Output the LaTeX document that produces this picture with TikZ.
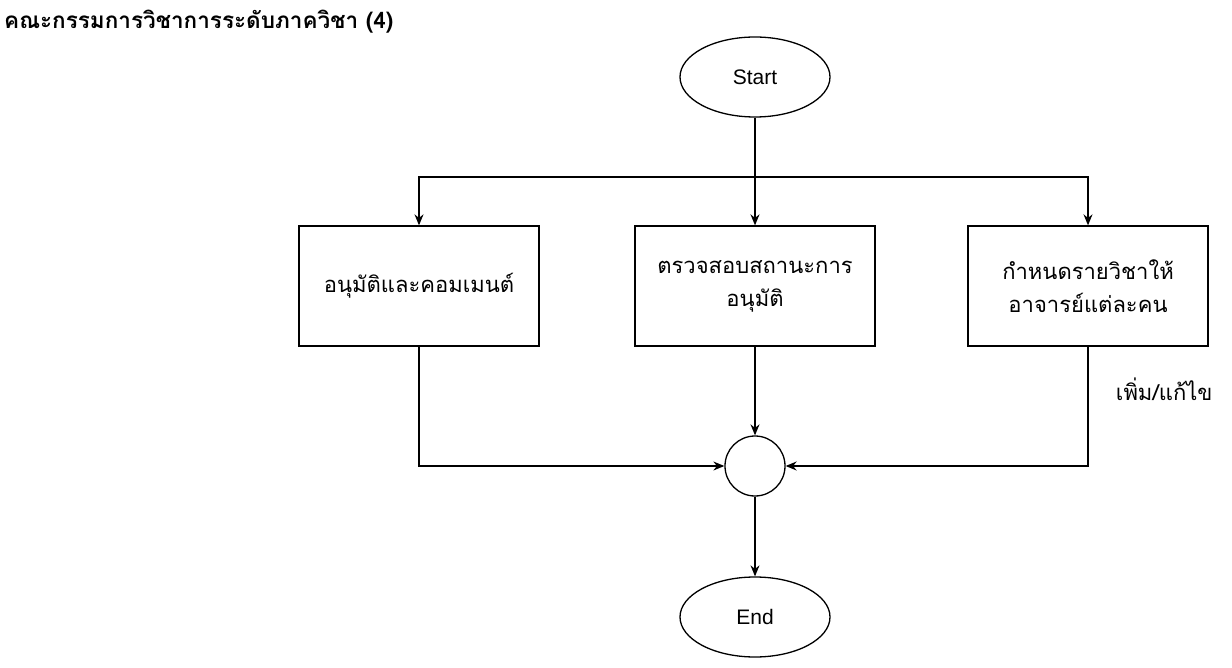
\documentclass[tikz,border=0pt]{standalone}
\usepackage{fontspec}
\setmainfont{Liberation Sans}
\newfontfamily\thaifont[Script=Thai]{Loma}
\usetikzlibrary{arrows.meta,shapes.geometric}

\tikzset{
  flowline/.style={line width=1.3pt, -{Stealth[length=11pt,width=9pt]}},
  terminal/.style={draw, line width=1.3pt, ellipse, minimum width=150pt, minimum height=80pt, font=\fontsize{21}{25}\selectfont},
  taskbox/.style={draw, line width=1.3pt, minimum width=240pt, minimum height=120pt, align=center, font=\thaifont\fontsize{22}{33}\selectfont},
  joint/.style={draw, line width=1.3pt, circle, minimum size=60pt, inner sep=0pt}
}

\begin{document}
\begin{tikzpicture}[x=1pt,y=1pt,yscale=-1,xscale=1]
		% page frame
		\useasboundingbox (0,0) rectangle (1232,668);

		% title
		\node[anchor=west, inner sep=0pt, font=\thaifont\bfseries\fontsize{22.5}{26}\selectfont] (title) at (4,22) {คณะกรรมการวิชาการระดับภาควิชา (4)};

		% start and end
		\node[terminal] (start) at (755,77) {Start};
		\node[terminal] (end) at (755,617) {End};

		% the three tasks
		\node[taskbox] (approve) at (419,286) {อนุมัติและคอมเมนต์};
		\node[taskbox] (check) at (755,286) {ตรวจสอบสถานะการ\\อนุมัติ};
		\node[taskbox] (assign) at (1088,286) {กำหนดรายวิชาให้\\อาจารย์แต่ละคน};

		% merge point
		\node[joint] (merge) at (755,466) {};

		% split from start
		\coordinate (split) at (755,177);
		\draw[line width=1.3pt] (start.south) -- (split);
		\draw[flowline] (split) -| (approve.north);
		\draw[flowline] (split) -- (check.north);
		\draw[flowline] (split) -| (assign.north);

		% back to the merge point
		\draw[flowline] (approve.south) |- (merge.west);
		\draw[flowline] (check.south) -- (merge.north);
		\draw[flowline] (assign.south) |- (merge.east)
			node[pos=0.18, anchor=west, xshift=24pt, font=\thaifont\fontsize{22}{26}\selectfont] {เพิ่ม/แก้ไข};

		\draw[flowline] (merge.south) -- (end.north);
	\end{tikzpicture}
\end{document}
